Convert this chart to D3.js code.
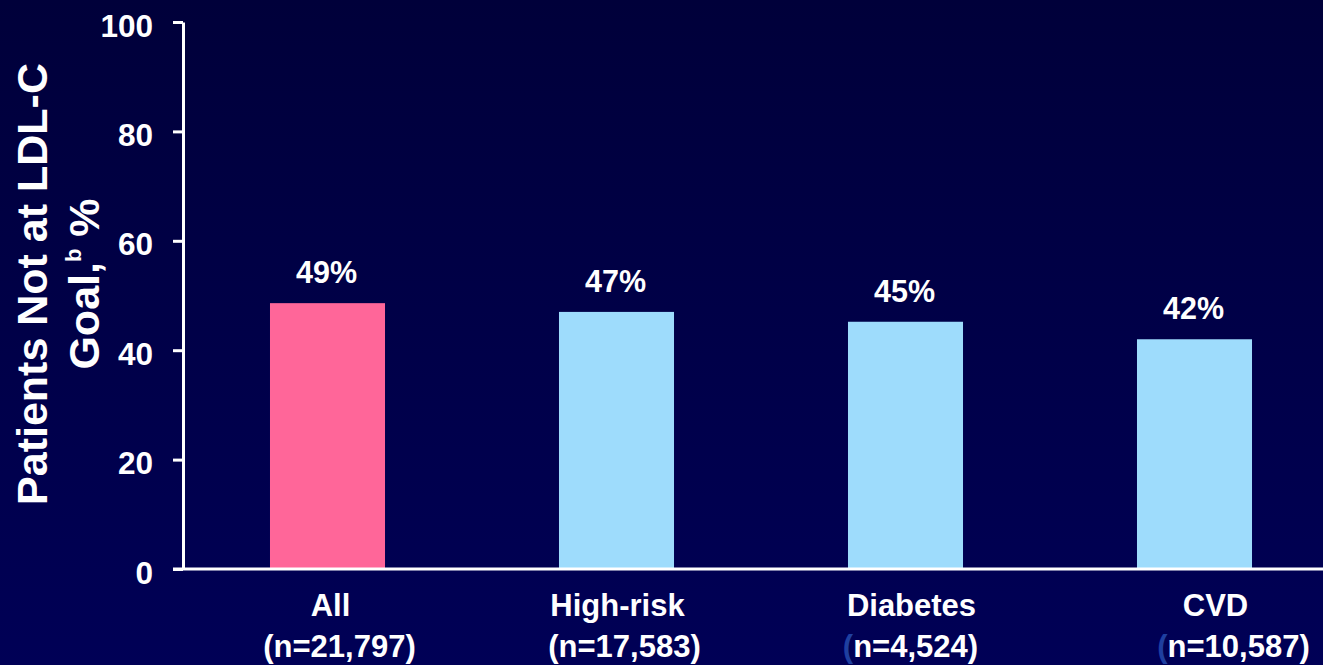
<!DOCTYPE html>
<html>
<head>
<meta charset="utf-8">
<script src="https://cdn.jsdelivr.net/npm/d3@7"></script>
<style>
  html, body { margin: 0; padding: 0; overflow: hidden; }
  svg { display: block; }
  text { font-family: "Liberation Sans", Arial, Helvetica, sans-serif; font-weight: bold; fill: #ffffff; }
</style>
</head>
<body>
<script>
// ---- data ----
const categories = ["All", "High-risk", "Diabetes", "CVD"];
const sampleSizes = ["(n=21,797)", "(n=17,583)", "(n=4,524)", "(n=10,587)"];
const values = [48.6, 47.0, 45.2, 42.0];
const valueLabels = ["49%", "47%", "45%", "42%"];
const yTicks = [0, 20, 40, 60, 80, 100];

// ---- layout / style constants ----
const W = 1323, H = 665;
const plot = { left: 183, top: 22, bottom: 569, right: 1339 };
const barColors = ["#ff6699", "#9edcfc", "#9edcfc", "#9edcfc"];
const blueParen = [false, false, true, true];
const label1Dx = [3, 1, 6, 21];
const label2Dx = [12, 8, 5, 39];

const svg = d3.select("body").append("svg").attr("width", W).attr("height", H);

const defs = svg.append("defs");
const grad = defs.append("linearGradient").attr("id", "bg").attr("x1", 0).attr("y1", 0).attr("x2", 0).attr("y2", 1);
grad.append("stop").attr("offset", "0%").attr("stop-color", "#00003a");
grad.append("stop").attr("offset", "100%").attr("stop-color", "#000056");
svg.append("rect").attr("width", W).attr("height", H).attr("fill", "url(#bg)");

const y = d3.scaleLinear().domain([0, 100]).range([plot.bottom, plot.top]);
const x = d3.scaleBand().domain(categories).range([plot.left, plot.right])
  .paddingInner(0.602).paddingOuter(0.301);

// bars
svg.append("g").selectAll("rect").data(values).join("rect")
  .attr("x", (d, i) => x(categories[i]))
  .attr("width", x.bandwidth())
  .attr("y", d => y(d))
  .attr("height", d => y(0) - y(d))
  .attr("fill", (d, i) => barColors[i]);

// value labels
svg.append("g").selectAll("text").data(values).join("text")
  .attr("x", (d, i) => x(categories[i]) + x.bandwidth() / 2 - 1)
  .attr("y", d => y(d) - 20)
  .attr("text-anchor", "middle")
  .attr("font-size", 30.5)
  .text((d, i) => valueLabels[i]);

// y axis
const yAxis = d3.axisLeft(y).tickValues(yTicks).tickSize(10).tickSizeOuter(0).tickPadding(20);
const gy = svg.append("g").attr("transform", `translate(${plot.left},0)`).call(yAxis);
gy.select(".domain").attr("stroke", "#fff").attr("stroke-width", 3);
gy.selectAll(".tick line").attr("stroke", "#fff").attr("stroke-width", 3);
gy.selectAll(".tick text")
  .attr("fill", "#fff")
  .attr("font-size", 31.5)
  .attr("font-family", "Liberation Sans, Arial, sans-serif")
  .attr("font-weight", "bold")
  .attr("dy", "0.45em");

// x axis line
svg.append("line")
  .attr("x1", plot.left - 10).attr("x2", W)
  .attr("y1", y(0)).attr("y2", y(0))
  .attr("stroke", "#fff").attr("stroke-width", 3);

// x labels
const xl = svg.append("g");
categories.forEach((c, i) => {
  const cx = x(c) + x.bandwidth() / 2;
  xl.append("text")
    .attr("x", cx + label1Dx[i]).attr("y", 616)
    .attr("text-anchor", "middle").attr("font-size", 31)
    .text(c);
  const t2 = xl.append("text")
    .attr("x", cx + label2Dx[i]).attr("y", 657)
    .attr("text-anchor", "middle").attr("font-size", 31);
  const s = sampleSizes[i];
  if (blueParen[i]) {
    t2.append("tspan").attr("fill", "#1f3fa0").text(s.slice(0, 1));
    t2.append("tspan").text(s.slice(1));
  } else {
    t2.text(s);
  }
});

// y axis title
const yt = svg.append("text")
  .attr("transform", "translate(0,284) rotate(-90)")
  .attr("text-anchor", "middle")
  .attr("font-size", 43);
yt.append("tspan").attr("x", 0).attr("y", 47).text("Patients Not at LDL-C");
const l2 = yt.append("tspan").attr("x", 0).attr("y", 99);
l2.append("tspan").text("Goal,");
l2.append("tspan").attr("font-size", 22).attr("dy", -18).text("b");
l2.append("tspan").attr("dy", 18).text(" %");
</script>
</body>
</html>
